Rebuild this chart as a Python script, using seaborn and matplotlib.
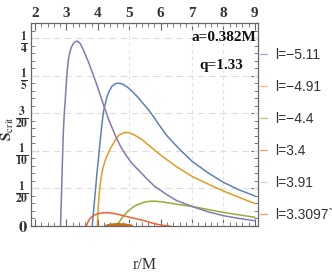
import numpy as np
import pandas as pd
import seaborn as sns
import matplotlib
matplotlib.use("Agg")
import matplotlib.pyplot as plt
from matplotlib.lines import Line2D
from matplotlib.ticker import MultipleLocator, FixedLocator

sns.set_style("ticks")
plt.rcParams['mathtext.fontset'] = 'stix'
plt.rcParams['font.family'] = ['Liberation Serif', 'DejaVu Serif']

# ---- data ----
labels = ["l=\u22125.11", "l=\u22124.91", "l=\u22124.4", "l=3.4", "l=3.91", "l=3.3097`"]
colors = ["#5E81B5", "#E19C24", "#8FB032", "#EB6235", "#8778B3", "#C56E1A"]

blue_r = [3.82, 3.87, 3.92, 3.97, 4.02, 4.07, 4.11, 4.18, 4.24, 4.29, 4.37, 4.45, 4.55, 4.64, 4.73,
          4.82, 4.98, 5.14, 5.30, 5.46, 5.62, 5.78, 5.94, 6.20, 6.58, 7.00, 7.50, 8.00, 8.50, 9.00]
blue_s = [0.000, 0.024, 0.046, 0.070, 0.090, 0.112, 0.128, 0.1525, 0.163, 0.172, 0.180, 0.186, 0.189,
          0.190, 0.1895, 0.188, 0.1835, 0.177, 0.170, 0.162, 0.154, 0.145, 0.135, 0.120, 0.103,
          0.086, 0.071, 0.058, 0.048, 0.040]

orange_r = [3.98, 4.02, 4.05, 4.10, 4.16, 4.24, 4.32, 4.41, 4.50, 4.58, 4.66, 4.77, 4.88, 4.98, 5.09,
            5.25, 5.41, 5.57, 5.73, 5.89, 6.05, 6.50, 7.00, 7.50, 8.00, 8.50, 9.00]
orange_s = [0.000, 0.030, 0.046, 0.064, 0.077, 0.088, 0.096, 0.104, 0.110, 0.116, 0.1205, 0.123, 0.1245,
            0.124, 0.1225, 0.119, 0.1148, 0.109, 0.1037, 0.098, 0.0927, 0.079, 0.066, 0.056, 0.0465,
            0.038, 0.030]

green_r = [4.62, 4.68, 4.75, 4.85, 4.96, 5.10, 5.23, 5.37, 5.51, 5.65, 5.80, 5.95, 6.15, 6.50, 7.00,
           7.50, 8.00, 8.50, 9.00]
green_s = [0.000, 0.005, 0.010, 0.015, 0.020, 0.0245, 0.028, 0.030, 0.032, 0.0328, 0.033, 0.0325,
           0.0315, 0.029, 0.026, 0.022, 0.018, 0.0148, 0.0116]

red_r = [3.63, 3.68, 3.73, 3.80, 3.89, 4.00, 4.11, 4.22, 4.32, 4.48, 4.64, 4.85, 5.07, 5.30, 5.51,
         5.72, 5.94, 6.12, 6.30]
red_s = [0.000, 0.005, 0.009, 0.012, 0.0146, 0.0163, 0.0173, 0.0177, 0.0177, 0.0168, 0.0156, 0.0133,
         0.011, 0.0088, 0.0067, 0.0040, 0.0018, 0.0006, 0.000]

purple_r = [2.81, 2.84, 2.87, 2.90, 2.93, 2.96, 3.01, 3.06, 3.10, 3.15, 3.20, 3.26, 3.33, 3.39, 3.44,
            3.54, 3.62, 3.70, 3.78, 3.86, 3.94, 4.02, 4.10, 4.18, 4.24, 4.35, 4.45, 4.56, 4.72, 4.88,
            5.07, 5.30, 5.51, 5.80, 6.15, 6.50, 7.00, 7.50, 8.00, 8.50, 9.00]
purple_s = [0.000, 0.040, 0.085, 0.125, 0.150, 0.167, 0.200, 0.221, 0.230, 0.237, 0.2415, 0.2445,
            0.246, 0.2445, 0.2425, 0.234, 0.226, 0.218, 0.209, 0.200, 0.191, 0.181, 0.171, 0.161,
            0.154, 0.141, 0.131, 0.120, 0.106, 0.095, 0.084, 0.074, 0.065, 0.053, 0.043, 0.034,
            0.026, 0.019, 0.0137, 0.010, 0.007]

dark_r = [4.27, 4.45, 4.65, 4.85, 5.07]
dark_s = [0.000, 0.0015, 0.002, 0.0015, 0.000]

series_r = [blue_r, orange_r, green_r, red_r, purple_r, dark_r]
series_s = [blue_s, orange_s, green_s, red_s, purple_s, dark_s]

xticks = [2, 3, 4, 5, 6, 7, 8, 9]
yticks = [0, 0.05, 0.10, 0.15, 0.20, 0.25]
ytick_labels = [r"$\mathbf{0}$", r"$\mathbf{\frac{1}{20}}$", r"$\mathbf{\frac{1}{10}}$",
                r"$\mathbf{\frac{3}{20}}$", r"$\mathbf{\frac{1}{5}}$", r"$\mathbf{\frac{1}{4}}$"]
vgrid = [5, 7, 8]

# ---- figure ----
fig = plt.figure(figsize=(3.32, 2.73), dpi=100)
ax = fig.add_axes([31/332, 1-226/273, (258-31)/332, (226-23)/273])

frames = []
for lab, r, s in zip(labels, series_r, series_s):
    frames.append(pd.DataFrame({"r": r, "S": s, "curve": lab}))
df = pd.concat(frames, ignore_index=True)

for lab, col in zip(labels, colors):
    sub = df[df["curve"] == lab]
    lw = 2.2 if lab == labels[5] else 1.1
    sns.lineplot(data=sub, x="r", y="S", color=col, lw=lw, sort=False,
                 estimator=None, ax=ax, legend=False, zorder=3)

ax.set_xlim(1.87, 9.1)
ax.set_ylim(0, 0.27)

for y in yticks[1:]:
    ax.axhline(y, color="#dddddd", lw=0.8, ls=(0, (6, 4)), zorder=1)
for x in vgrid:
    ax.axvline(x, color="#e2e2e2", lw=0.8, ls=(0, (3, 3)), zorder=1)

ax.xaxis.set_major_locator(FixedLocator(xticks))
ax.xaxis.set_minor_locator(MultipleLocator(0.2))
ax.yaxis.set_major_locator(FixedLocator(yticks))
ax.yaxis.set_minor_locator(MultipleLocator(0.01))
ax.set_yticklabels(ytick_labels)
ax.set_xticklabels([str(t) for t in xticks])

ax.tick_params(axis="both", which="both", direction="in", top=True, right=True,
               color="#666666")
ax.tick_params(axis="x", which="both", labelbottom=False, labeltop=True)
ax.tick_params(which="major", length=5, width=0.8)
ax.tick_params(which="minor", length=3, width=0.6)
ax.tick_params(axis="x", labelsize=11, pad=2)
ax.tick_params(axis="y", labelsize=12, pad=2)
for t in ax.get_xticklabels():
    t.set_fontweight("bold")
    t.set_color("#333333")
for t in ax.get_yticklabels():
    t.set_color("#333333")
for sp in ax.spines.values():
    sp.set_color("#666666")
    sp.set_linewidth(0.9)

ax.set_xlabel("r/M", fontsize=11.5, color="#333333", labelpad=22)
ax.set_ylabel(r"$\mathbf{S}_{\mathrm{crit}}$", fontsize=11, color="#333333")
ax.yaxis.set_label_coords(-0.068, 0.48)

ax.text(0.995, 0.93, "a=0.382M", transform=ax.transAxes, ha="right", va="center",
        fontsize=11, fontweight="bold", color="#111111")
ax.text(0.84, 0.79, "q=1.33", transform=ax.transAxes, ha="center", va="center",
        fontsize=11, fontweight="bold", color="#111111")

handles = []
for col, lab in zip(colors, labels):
    a = 0.3 if lab == labels[4] else 0.6
    handles.append(Line2D([0], [0], color=col, lw=1, alpha=a))
leg = fig.legend(handles, labels, loc="upper left", bbox_to_anchor=(260/332, 1-48/273),
                 frameon=False, handlelength=0.5, handletextpad=0.6, labelspacing=1.3,
                 prop={"family": ["Liberation Sans", "DejaVu Sans"], "size": 10},
                 borderaxespad=0, borderpad=0)
for t in leg.get_texts():
    t.set_color("#333333")

fig.savefig("out.png", dpi=100)
